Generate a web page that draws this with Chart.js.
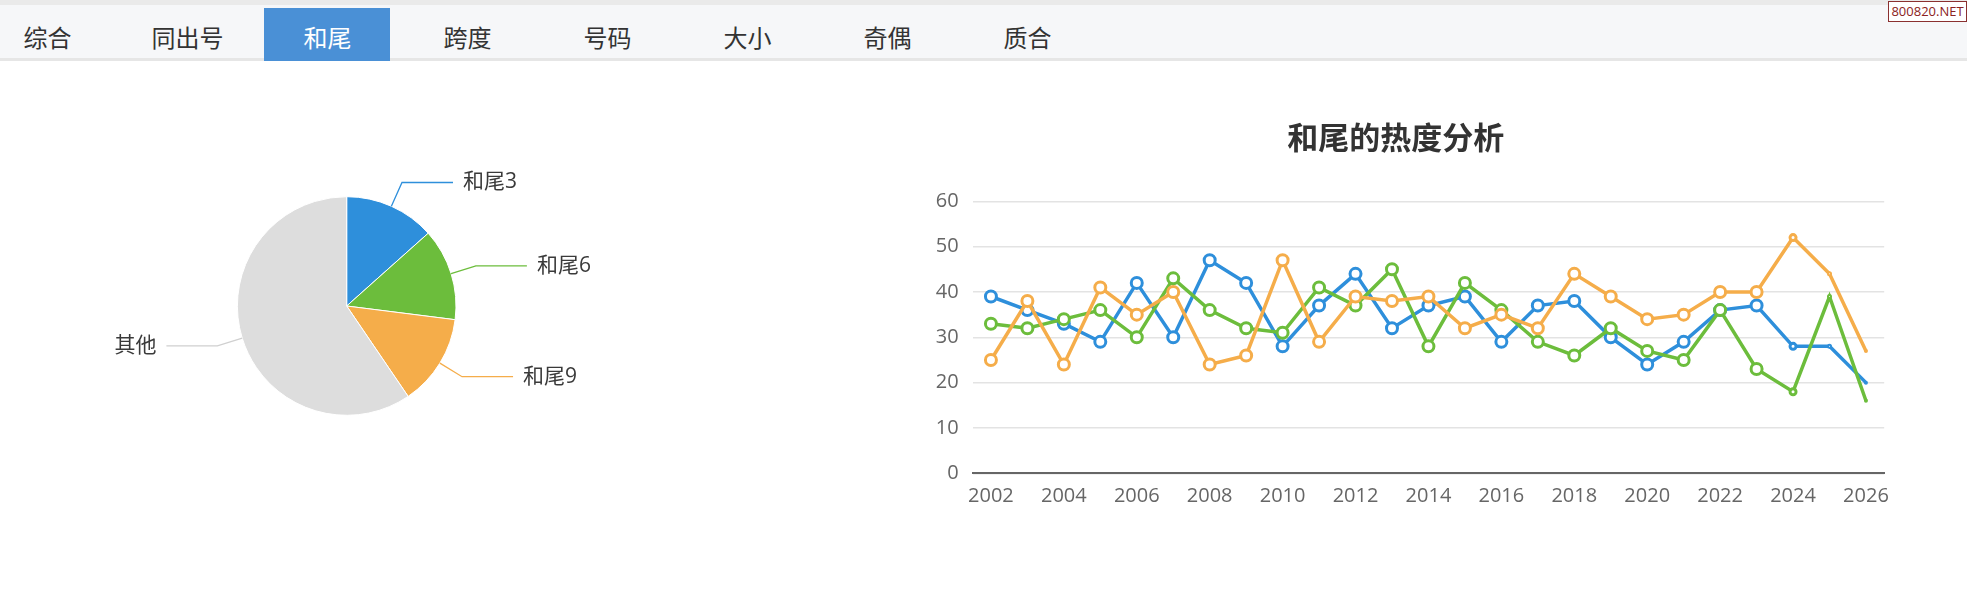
<!DOCTYPE html>
<html><head><meta charset="utf-8">
<script src="https://cdn.jsdelivr.net/npm/chart.js@4.4.0/dist/chart.umd.min.js"></script>
<style>
html,body{margin:0;padding:0;background:#fff;width:1967px;height:612px;overflow:hidden;font-family:"Noto Sans CJK SC","Open Sans",sans-serif;}
.abs{position:absolute;}
#strip{left:0;top:0;width:1967px;height:5px;background:#eaeaea;}
#bar{left:0;top:5px;width:1967px;height:53px;background:#f6f7f9;border-bottom:3px solid #e6e6e6;}
#activeBg{left:264px;top:8px;width:126px;height:53px;background:#4a90d6;}
.tab{top:21px;height:32px;line-height:32px;width:126px;text-align:center;font-size:24px;color:#333;white-space:nowrap;}
.tab.on{color:#fff;}
#badge{left:1888px;top:1px;width:77px;height:19px;border:1px solid #8a3030;background:#fff;color:#8b2222;font:13px "Open Sans","DejaVu Sans",sans-serif;line-height:19px;text-align:center;white-space:nowrap;overflow:hidden;}
#pieBox{left:0;top:60px;width:700px;height:480px;}
#lineBox{left:900px;top:100px;width:1000px;height:440px;}
</style>
</head><body>
<div id="strip" class="abs"></div>
<div id="bar" class="abs"></div>
<div id="activeBg" class="abs"></div>
<div id="tabs"></div>
<div id="badge" class="abs">800820.NET</div>
<div id="pieBox" class="abs"><canvas id="pie"></canvas></div>
<div id="lineBox" class="abs"><canvas id="line"></canvas></div>
<script>
// ---- data ----
const tabNames = ['综合','同出号','和尾','跨度','号码','大小','奇偶','质合'];
const activeTab = 2;
const pieLabels = ['和尾3','和尾6','和尾9','其他'];
const pieValues = [13.4, 13.6, 13.5, 59.5];
const years = ['2002','2003','2004','2005','2006','2007','2008','2009','2010','2011','2012','2013','2014','2015','2016','2017','2018','2019','2020','2021','2022','2023','2024','2025','2026'];
const tail3 = [39,36,33,29,42,30,47,42,28,37,44,32,37,39,29,37,38,30,24,29,36,37,28,28,20];
const tail6 = [33,32,34,36,30,43,36,32,31,41,37,45,28,42,36,29,26,32,27,25,36,23,18,39,16];
const tail9 = [25,38,24,41,35,40,24,26,47,29,39,38,39,32,35,32,44,39,34,35,40,40,52,44,27];
const yMin = 0, yMax = 60, yStep = 10;
const chartTitle = '和尾的热度分析';

// ---- styles ----
const C_BLUE = '#2e8fdb', C_GREEN = '#6cbd3c', C_ORANGE = '#f5ad4a', C_GRAY = '#dddddd';
const tickFont = {family:"'Open Sans','Noto Sans CJK SC'", size:20};

// tabs
const tabsEl = document.getElementById('tabs');
tabNames.forEach((t,i)=>{
  const d = document.createElement('div');
  d.className = 'abs tab' + (i===activeTab ? ' on' : '');
  d.style.left = (47.5 + i*140 - 63) + 'px';
  d.textContent = t;
  tabsEl.appendChild(d);
});

// pie labels plugin
const pieLabelPlugin = {
  id:'pieLabelPlugin',
  afterDatasetsDraw(chart){
    const ctx = chart.ctx;
    const meta = chart.getDatasetMeta(0);
    const lineColors = [C_BLUE, C_GREEN, C_ORANGE, '#d0d0d0'];
    meta.data.forEach((arc,i)=>{
      const p = arc.getProps(['x','y','startAngle','endAngle','outerRadius'], true);
      const mid = (p.startAngle + p.endAngle)/2;
      const c = Math.cos(mid), s = Math.sin(mid);
      const x0 = p.x + c*p.outerRadius, y0 = p.y + s*p.outerRadius;
      const x1 = p.x + c*(p.outerRadius+26), y1 = p.y + s*(p.outerRadius+26);
      const right = c >= 0;
      const x2 = x1 + (right ? 51 : -51);
      ctx.save();
      ctx.strokeStyle = lineColors[i];
      ctx.lineWidth = 1.3;
      ctx.beginPath(); ctx.moveTo(x0,y0); ctx.lineTo(x1,y1); ctx.lineTo(x2,y1); ctx.stroke();
      ctx.fillStyle = '#3a3a3a';
      ctx.font = "21px 'Open Sans','Noto Sans CJK SC'";
      ctx.textBaseline = 'middle';
      ctx.textAlign = right ? 'left' : 'right';
      ctx.fillText(chart.data.labels[i], x2 + (right ? 10 : -10), y1);
      ctx.restore();
    });
  }
};

new Chart(document.getElementById('pie'), {
  type:'pie',
  data:{labels:pieLabels, datasets:[{data:pieValues, backgroundColor:[C_BLUE,C_GREEN,C_ORANGE,C_GRAY], borderColor:'#ffffff', borderWidth:1}]},
  options:{
    responsive:true, maintainAspectRatio:false, animation:false,
    layout:{padding:{left:236.9, right:243.5, top:136.2, bottom:124.2}},
    plugins:{legend:{display:false}, tooltip:{enabled:false}}
  },
  plugins:[pieLabelPlugin]
});

const ptRadius = ctx => { const i = ctx.dataIndex; return i===24 ? 1 : i===23 ? 1.5 : i===22 ? 3 : 5.5; };
const ptBorder = ctx => { const i = ctx.dataIndex; return i>=23 ? 2 : 3; };
function ds(label, data, color, order){
  return {label, data, borderColor:color, backgroundColor:color, borderWidth:3.5, tension:0,
    pointRadius:ptRadius, pointBorderWidth:ptBorder, pointBackgroundColor:'#ffffff', pointBorderColor:color, order};
}

new Chart(document.getElementById('line'), {
  type:'line',
  data:{labels:years, datasets:[ds('和尾3',tail3,C_BLUE,3), ds('和尾6',tail6,C_GREEN,2), ds('和尾9',tail9,C_ORANGE,1)]},
  options:{
    responsive:true, maintainAspectRatio:false, animation:false,
    layout:{padding:{left:0, right:8.3, top:0, bottom:0}},
    plugins:{
      legend:{display:false}, tooltip:{enabled:false},
      title:{display:true, text:chartTitle, color:'#333333', font:{family:"'Noto Sans CJK SC'", size:31, weight:'bold'}, padding:{top:19, bottom:45.1}}
    },
    scales:{
      x:{type:'category', offset:true,
        grid:{display:false, drawTicks:false},
        border:{display:true, color:'#666666', width:2},
        ticks:{autoSkip:false, maxRotation:0, minRotation:0, padding:11, color:'#666666', font:tickFont,
          callback:(v,i)=> i%2===0 ? years[i] : ''},
        afterFit:s=>{ s.height = 66.7; }
      },
      y:{min:yMin, max:yMax,
        grid:{color:'#e3e3e3', lineWidth:1.5, drawTicks:false},
        border:{display:false},
        ticks:{stepSize:yStep, padding:14, color:'#666666', font:tickFont},
        afterFit:s=>{ s.width = 72.7; }
      }
    }
  }
});
</script>
</body></html>
